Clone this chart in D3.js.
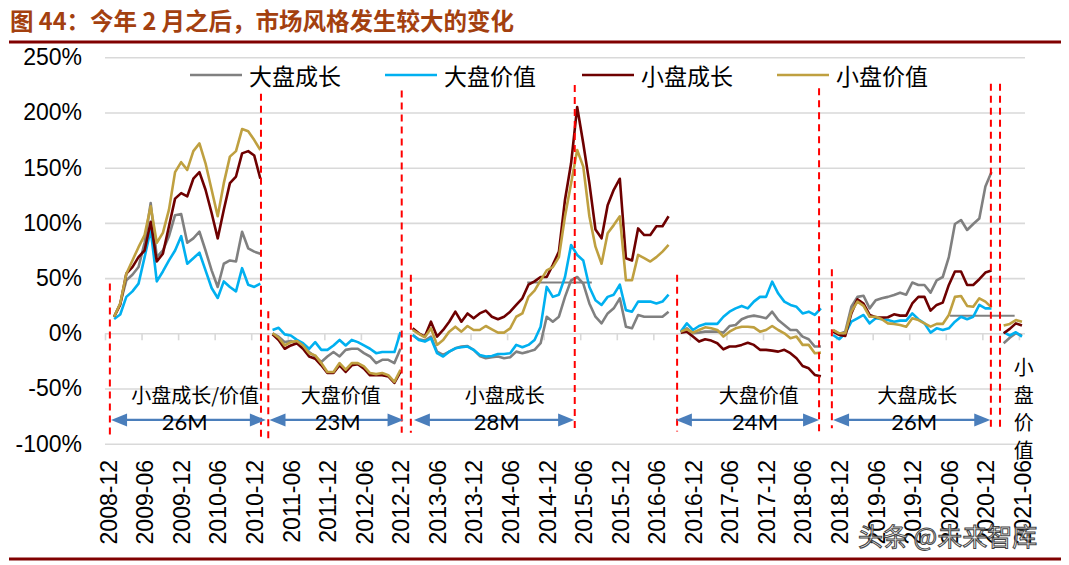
<!DOCTYPE html>
<html>
<head>
<meta charset="utf-8">
<script src="https://cdn.jsdelivr.net/npm/d3@7"></script>
<style>
  body { margin: 0; background: #fff; }
  svg { display: block; }
</style>
</head>
<body>
<svg id="chart"></svg>
<script>
// tick labels, one every 6 months starting 2008-12 (month index 0)
var tickLabels = ["2008-12", "2009-06", "2009-12", "2010-06", "2010-12", "2011-06", "2011-12",
  "2012-06", "2012-12", "2013-06", "2013-12", "2014-06", "2014-12", "2015-06", "2015-12",
  "2016-06", "2016-12", "2017-06", "2017-12", "2018-06", "2018-12", "2019-06", "2019-12",
  "2020-06", "2020-12", "2021-06"];
var yTicks = [-100, -50, 0, 50, 100, 150, 200, 250];

// first month index of every style period
var segmentStarts = [1, 27, 50, 94, 119, 147];

// cumulative return (%) per period, restarted in every period
var largeGrowth = [
  [15, 27, 48, 53, 60, 82, 118, 69, 75, 88, 107, 108, 82, 86, 92, 75, 57, 42, 63, 66, 65, 92, 77, 74, 72],
  [0, -3, -8, -7, -9, -12, -17, -21, -26, -21, -17, -21, -15, -14, -14, -18, -21, -27, -24, -24, -27, -14],
  [-1.5, -5.4, -6.6, -3, -16.6, -19.6, -16.6, -13.6, -12, -11.5, -15, -20.5, -22.6, -21.7, -21, -22.6, -21.7,
   -16.6, -18, -16.6, -15, -9, 15, 10.5, 15, 33, 48, 51, 45, 27, 15, 9, 18, 22.6, 31.7, 6, 4.5, 16.6, 15, 15, 15, 15, 19.6],
  [1.5, 4.5, 0, 0.6, 1.5, 1.5, 1.5, 0.6, 6.6, 7.5, 12.7, 15, 16, 15, 13.6, 19.6, 12, 7.5, 3, 3, -3, -5.4, -12, -12],
  [3, -0.6, 1.5, 24, 33, 34, 22.6, 30, 31.7, 33, 34.7, 36.8, 35, 46, 43.8, 43.8, 36.8, 48, 51, 69, 99, 102.6, 93.6, 99, 104, 133, 146],
  [-9, -4, 0, -2]
];
var largeValue = [
  [13, 17, 33, 38, 45, 69, 94, 47, 56, 66, 75, 88, 63, 68, 73, 57, 41, 32, 47, 42, 38, 59, 44, 42, 45],
  [3, 5, -1, -2, -6, -9, -14, -8, -15, -15, -11, -6, -11, -6, -8, -11, -14, -18, -17, -17, -17, 1],
  [-1.5, -6, -7.5, -4.5, -18, -21, -16.6, -13.6, -12.7, -12, -15, -19.6, -21, -20.5, -18.7, -18.7, -18, -10.5,
   -12.7, -10.5, -6, 6, 42, 33, 35, 51, 80, 71, 66, 42, 30, 25.7, 33, 35, 44, 21, 19.6, 28.7, 28.7, 28.7, 27, 28.7, 35],
  [1.5, 9, 3, 6.6, 8.5, 8.5, 8.5, 15, 19.6, 22.6, 24.8, 22.6, 28.7, 33, 33, 46.8, 36, 28.7, 25.7, 24, 18, 19.6, 16.6, 22.6],
  [-1.5, -5.4, 0, 10.5, 13.6, 16.6, 9, 13.6, 12.7, 12, 10.5, 11.5, 11.5, 18, 12.7, 9, 0.6, 4.5, 3, 4.5, 10.5, 15, 12.7, 15, 25.7, 22.6, 22.6],
  [1, -2, 1, -3]
];
var smallGrowth = [
  [15, 26, 54, 60, 69, 75, 101, 65, 72, 97, 122, 127, 124, 140, 146, 130, 109, 86, 112, 136, 142, 163, 165, 161, 140],
  [-1, -6, -14, -11, -9, -14, -21, -23, -29, -36, -36, -29, -35, -29, -28, -32, -38, -38, -38, -39, -45, -35],
  [4.5, 0, -3, 10.5, -3, 3, 10.5, 19.6, 10.5, 18, 13.6, 18, 20.5, 15, 12.7, 15, 19.6, 25.7, 31.7, 44, 47, 51, 51,
   62, 74, 121, 154, 205, 172, 136, 94, 86, 116, 130, 140, 68, 66, 95, 89, 89, 97, 97, 106],
  [0.6, 1.5, -3, -7.5, -5.4, -6.6, -9, -14.5, -12, -12, -10.5, -8.5, -10.5, -15, -15, -15.7, -16.6, -15, -18, -22.6, -29.6, -31.7, -37.7, -39],
  [1.5, -1.5, -2.4, 18, 30.8, 27, 16.6, 14.5, 14.2, 14.5, 17.2, 16, 16, 27, 33, 33, 20.5, 25.7, 27.8, 43.8, 56, 56, 43.8, 43.8, 49, 55, 56.8],
  [0, 4, 9, 7]
];
var smallValue = [
  [15, 27, 54, 66, 78, 89, 115, 82, 91, 112, 146, 155, 148, 165, 172, 154, 130, 106, 136, 160, 165, 185, 183, 175, 166],
  [0, -4, -11, -8, -7, -11, -18, -20, -27, -35, -35, -27, -33, -27, -27, -30, -36, -37, -36, -38, -44, -33],
  [3, -0.6, -3.6, 4.5, -10.5, -6, 1.5, 6, 1.5, 6.6, 3, 3, 6.6, 3.6, 0.6, 0.6, 4.5, 15, 18, 33, 38.6, 48, 57, 60,
   69, 106, 136, 166, 151, 106, 78.5, 63, 90.6, 98, 106, 48, 48, 71, 68, 65, 69, 74, 80],
  [1.5, 3.6, 0.6, 3, 5.4, 4.5, 3, -3, 1.5, 4.5, 6, 6, 5.4, 1.5, 3, 6.6, 3, 0, -4.5, -3, -10.5, -10.5, -18, -17.5],
  [3, 0, 0, 19.6, 28.7, 24.8, 15, 15, 12.7, 9, 8.5, 7.5, 6, 13.6, 12, 9, 6, 8.5, 8.5, 16.6, 33, 33.8, 24.8, 24, 31.7, 28.7, 23.5],
  [7, 8.5, 12, 10.5]
];

var seriesNames = ["大盘成长", "大盘价值", "小盘成长", "小盘价值"];

// short flat gray pieces [fromMonth, toMonth, value]
var flatPieces = [[68.8, 79.4, 46], [138.2, 148.8, 16]];

// red dashed split lines [month, top %, bottom %]
var splitLines = [[0.3, 45, -96], [25.1, 217, -96], [26.3, 20, -96], [48.2, 220, -90],
  [49.7, 53, -90], [76.6, 225, -90], [93.4, 53, -89], [116.7, 222, -89],
  [118.8, 58, -86], [144.9, 226, -86], [146.4, 226, -86]];

// periods: arrow from/to month, style label, month count, label centre months
var periodFrom = [0.5, 26.5, 50.2, 93.2, 119];
var periodTo = [25.9, 48.5, 76.5, 116.7, 144.8];
var periodStyle = ["小盘成长/价值", "大盘价值", "小盘成长", "大盘价值", "大盘成长"];
var periodLength = ["26M", "23M", "28M", "24M", "26M"];
var styleAt = [14.3, 38.2, 65.1, 106.8, 132.8];
var lengthAt = [12.6, 37.7, 63.8, 106.2, 132.3];
var lastStyle = "小盘价值";

function createChart() {
  var w = 1069, h = 565;
  var colors = ["#808080", "#00B0F0", "#6E0000", "#BFA040"];
  var cjk = "'Noto Sans CJK SC', sans-serif";
  var latin = "'Liberation Sans', Arial, sans-serif";

  var svg = d3.select("#chart").attr("width", w).attr("height", h);

  // scales: one band of 6.09px per month, points in band centre
  var x = d3.scaleLinear().domain([-0.5, 150.5]).range([105, 1025]);
  var y = d3.scaleLinear().domain([-100, 250]).range([443.7, 57.3]);

  // title and rules
  svg.append("text")
    .attr("x", 10).attr("y", 30)
    .style("font-family", cjk).style("font-size", "23.5px").style("font-weight", "bold")
    .style("fill", "#A3400F")
    .text("图 44：今年 2 月之后，市场风格发生较大的变化");
  svg.append("line").attr("x1", 9).attr("x2", 1061).attr("y1", 42).attr("y2", 42)
    .attr("stroke", "#800000").attr("stroke-width", 3);
  svg.append("line").attr("x1", 9).attr("x2", 1061).attr("y1", 559).attr("y2", 559)
    .attr("stroke", "#800000").attr("stroke-width", 3);

  // gridlines
  var grid = svg.append("g").attr("transform", "translate(105,0)")
    .call(d3.axisLeft(y).tickValues(yTicks).tickSize(-920).tickFormat(""));
  grid.select(".domain").remove();
  grid.selectAll("line").attr("stroke", "#D9D9D9").attr("stroke-width", 1.6);

  // y labels
  var yAxis = svg.append("g").attr("transform", "translate(105,0)")
    .call(d3.axisLeft(y).tickValues(yTicks).tickSize(0).tickPadding(23)
      .tickFormat(function(d) { return d + "%"; }));
  yAxis.select(".domain").remove();
  yAxis.selectAll("text").style("font-family", latin).style("font-size", "23px").style("fill", "#000");

  // tick marks under the 0% line
  var tickMonths = d3.range(0, 26).map(function(k) { return k * 6 - 0.5; });
  var xTicks = svg.append("g").attr("transform", "translate(0," + y(0) + ")")
    .call(d3.axisBottom(x).tickValues(tickMonths).tickSize(7).tickFormat(""));
  xTicks.select(".domain").remove();
  xTicks.selectAll("line").attr("stroke", "#D9D9D9").attr("stroke-width", 1.6);

  // x labels, rotated
  var labelMonths = d3.range(0, 26).map(function(k) { return k * 6; });
  var xAxis = svg.append("g").attr("transform", "translate(0,460)")
    .call(d3.axisBottom(x).tickValues(labelMonths).tickSize(0)
      .tickFormat(function(d, i) { return tickLabels[i]; }));
  xAxis.select(".domain").remove();
  xAxis.selectAll("text")
    .attr("transform", "rotate(-90)")
    .attr("x", 0).attr("y", 0).attr("dy", "0.36em")
    .attr("text-anchor", "end")
    .style("font-family", latin).style("font-size", "23px").style("fill", "#000");

  // flat gray pieces
  svg.selectAll(".flat").data(flatPieces).enter().append("line")
    .attr("x1", function(d) { return x(d[0]); })
    .attr("x2", function(d) { return x(d[1]); })
    .attr("y1", function(d) { return y(d[2]); })
    .attr("y2", function(d) { return y(d[2]); })
    .attr("stroke", "#808080").attr("stroke-width", 2);

  // series lines, one path per period
  var line = d3.line().x(function(d) { return x(d.m); }).y(function(d) { return y(d.v); });
  [largeGrowth, largeValue, smallGrowth, smallValue].forEach(function(series, si) {
    series.forEach(function(vals, k) {
      var pts = vals.map(function(v, i) { return { m: segmentStarts[k] + i, v: v }; });
      svg.append("path").datum(pts)
        .attr("d", line)
        .attr("fill", "none")
        .attr("stroke", colors[si])
        .attr("stroke-width", 2.6)
        .attr("stroke-linejoin", "round");
    });
  });

  // red dashed split lines
  svg.selectAll(".split").data(splitLines).enter().append("line")
    .attr("x1", function(d) { return x(d[0]); })
    .attr("x2", function(d) { return x(d[0]); })
    .attr("y1", function(d) { return y(d[1]); })
    .attr("y2", function(d) { return y(d[2]); })
    .attr("stroke", "#FF0000").attr("stroke-width", 2)
    .attr("stroke-dasharray", "7,5");

  // double arrows with period names and lengths
  var arrowY = y(-78.5), headL = 16, headH = 6.5;
  periodFrom.forEach(function(from, i) {
    var x0 = x(from), x1 = x(periodTo[i]);
    svg.append("line")
      .attr("x1", x0 + headL - 1).attr("x2", x1 - headL + 1)
      .attr("y1", arrowY).attr("y2", arrowY)
      .attr("stroke", "#4A7EBB").attr("stroke-width", 2.2);
    svg.append("path")
      .attr("d", "M" + x0 + "," + arrowY + "L" + (x0 + headL) + "," + (arrowY - headH) +
        "L" + (x0 + headL) + "," + (arrowY + headH) + "Z")
      .attr("fill", "#4A7EBB");
    svg.append("path")
      .attr("d", "M" + x1 + "," + arrowY + "L" + (x1 - headL) + "," + (arrowY - headH) +
        "L" + (x1 - headL) + "," + (arrowY + headH) + "Z")
      .attr("fill", "#4A7EBB");

    svg.append("text")
      .attr("x", x(styleAt[i])).attr("y", y(-55.5))
      .attr("text-anchor", "middle").attr("dominant-baseline", "central")
      .style("font-family", cjk).style("font-size", "20px").style("fill", "#000")
      .text(periodStyle[i]);
    svg.append("text")
      .attr("x", x(lengthAt[i])).attr("y", arrowY + 2)
      .attr("text-anchor", "middle").attr("dominant-baseline", "central")
      .style("font-family", "Lato, sans-serif").style("font-size", "22px").style("fill", "#000")
      .text(periodLength[i]);
  });

  // last period name, written top to bottom
  lastStyle.split("").forEach(function(ch, i) {
    svg.append("text")
      .attr("x", x(150.3)).attr("y", y(-30.5) + i * 27.5)
      .attr("text-anchor", "middle").attr("dominant-baseline", "central")
      .style("font-family", cjk).style("font-size", "20px").style("fill", "#000")
      .text(ch);
  });

  // legend
  var legendX = [190, 385, 582, 777];
  seriesNames.forEach(function(name, i) {
    svg.append("line")
      .attr("x1", legendX[i]).attr("x2", legendX[i] + 52)
      .attr("y1", 75).attr("y2", 75)
      .attr("stroke", colors[i]).attr("stroke-width", 2.6);
    svg.append("text")
      .attr("x", legendX[i] + 59).attr("y", 75)
      .attr("dominant-baseline", "central")
      .style("font-family", cjk).style("font-size", "23px").style("fill", "#000")
      .text(name);
  });

  // watermark
  svg.append("text")
    .attr("x", 858).attr("y", 546)
    .style("font-family", cjk).style("font-size", "25px")
    .style("fill", "rgba(255,255,255,0.7)").style("stroke", "#444").style("stroke-width", 1)
    .text("头条 @未来智库");
}

document.addEventListener("DOMContentLoaded", function() {
  createChart();
});
</script>
</body>
</html>
